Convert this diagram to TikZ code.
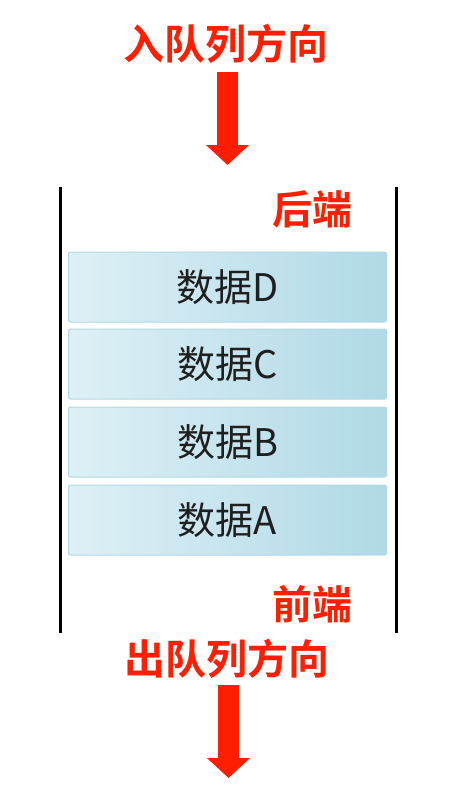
\documentclass[tikz,border=0pt]{standalone}
\usepackage{fontspec}
\usetikzlibrary{arrows.meta}
\newfontfamily\cjk{Noto Sans CJK SC}
\newfontfamily\cjkbold{Noto Sans CJK SC Bold}
\definecolor{qred}{RGB}{255,30,0}
\definecolor{boxlight}{RGB}{222,240,246}
\definecolor{boxmid}{RGB}{193,226,236}
\definecolor{boxdark}{RGB}{176,217,230}
\definecolor{boxedge}{RGB}{178,216,228}
\begin{document}
\begin{tikzpicture}[x=1pt,y=-1pt,
  heading/.style={text=qred,font=\cjkbold\fontsize{41}{41}\selectfont,inner sep=0pt},
  endlabel/.style={text=qred,font=\cjkbold\fontsize{40}{40}\selectfont,inner sep=0pt},
  databox/.style={draw=boxedge,line width=1pt,rounded corners=2pt,
    minimum width=318pt,minimum height=70pt,inner sep=0pt,
    left color=boxlight,middle color=boxmid,right color=boxdark,
    font=\cjk\fontsize{38}{38}\selectfont,text=black!88},
  wall/.style={line width=3pt,black},
  bigarrow/.style={qred,line width=21pt,-{Triangle[width=42pt,length=20pt]}}
]
\useasboundingbox (0,0) rectangle (457,798);

\node[heading] (inq) at (226,44) {入队列方向};
\coordinate (inTop) at (227.5,72);
\coordinate (inTip) at (227.5,165);
\draw[bigarrow] (inTop) -- (inTip);

\coordinate (lwTop) at (60,187);
\coordinate (lwBot) at (60,633);
\coordinate (rwTop) at (396,187);
\coordinate (rwBot) at (396,633);
\draw[wall] (lwTop) -- (lwBot);
\draw[wall] (rwTop) -- (rwBot);

\node[endlabel] (rear) at (312,209) {后端};

\node[databox] (d) at (227.5,287) {数据D};
\node[databox] (c) at (227.5,364) {数据C};
\node[databox] (b) at (227.5,442) {数据B};
\node[databox] (a) at (227.5,520) {数据A};

\node[endlabel] (front) at (312,604) {前端};

\node[heading] (outq) at (226.5,659) {出队列方向};
\coordinate (outTop) at (228.5,685);
\coordinate (outTip) at (228.5,778);
\draw[bigarrow] (outTop) -- (outTip);
\end{tikzpicture}
\end{document}
